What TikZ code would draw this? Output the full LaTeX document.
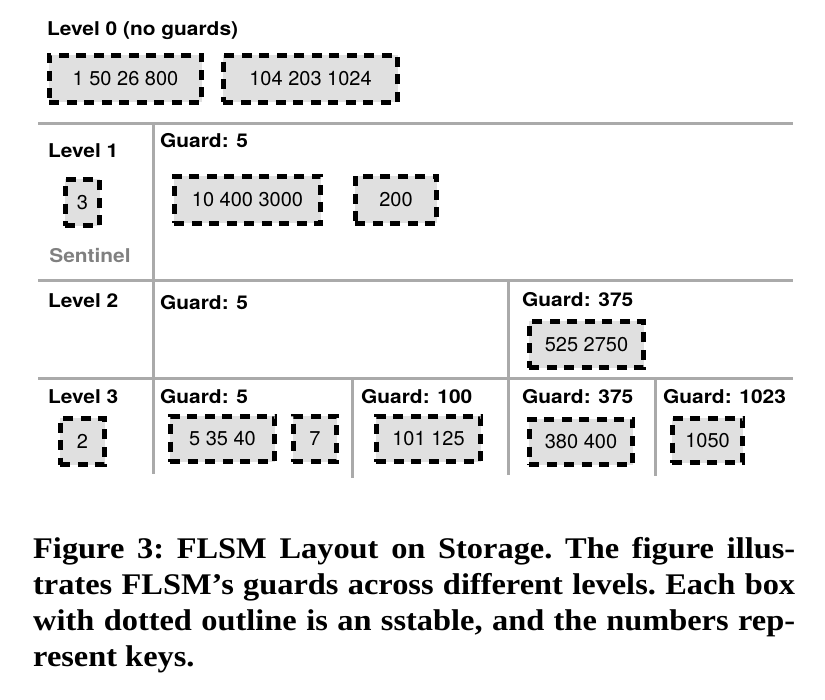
\documentclass[tikz,border=0pt]{standalone}
\usepackage{fontspec}
\newfontfamily\heros[FakeStretch=1.1]{TeX Gyre Heros}
\newfontfamily\numfont{TeX Gyre Heros}
\newfontfamily\capfont[FakeStretch=1.08]{Liberation Serif}
\definecolor{boxgray}{RGB}{224,224,224}
\definecolor{linegray}{RGB}{170,170,170}
\definecolor{sentgray}{RGB}{128,128,128}
\tikzset{
  sstable/.style={draw, line width=4.8pt, dash pattern=on 10pt off 7.5pt,
    fill=boxgray, inner sep=0pt, minimum height=47pt,
    font=\numfont\fontsize{20}{20}\selectfont},
  lvl/.style={anchor=base west, inner sep=0pt,
    font=\heros\bfseries\fontsize{19}{19}\selectfont},
  gridline/.style={linegray, line width=3pt},
  capline/.style={anchor=base west, inner sep=0pt,
    font=\capfont\bfseries\frenchspacing\fontsize{30}{36}\selectfont},
}

\begin{document}
\begin{tikzpicture}[x=1pt, y=-1pt]
  \useasboundingbox (0,0) rectangle (825,700);

  % grid
  \draw[gridline] (38,124) -- (793,124);
  \draw[gridline] (38,281) -- (793,281);
  \draw[gridline] (38,379) -- (793,379);
  \draw[gridline] (153,124) -- (153,474);
  \draw[gridline] (508,281) -- (508,475);
  \draw[gridline] (352,379) -- (352,478);
  \draw[gridline] (655,379) -- (655,476);

  % level 0
  \node[lvl] (lvl0) at (47,36) {Level 0 (no guards)};
  \node[sstable, minimum width=152.5pt] (l0a) at (125.5,79) {1 50 26 800};
  \node[sstable, minimum width=174.5pt] (l0b) at (310.5,79) {104 203 1024};

  % level 1
  \node[lvl] (lvl1) at (48,158) {Level 1};
  \node[lvl] (g1a) at (160,148) {Guard: 5};
  \node[sstable, minimum width=34.5pt, minimum height=46.5pt] (s1) at (82.5,202.5) {3};
  \node[lvl, anchor=base, text=sentgray] (sent) at (90,263) {Sentinel};
  \node[sstable, minimum width=146.5pt] (l1a) at (247.5,200) {10 400 3000};
  \node[sstable, minimum width=81.5pt] (l1b) at (396,200) {200};

  % level 2
  \node[lvl] (lvl2) at (48,308) {Level 2};
  \node[lvl] (g2a) at (160,310) {Guard: 5};
  \node[lvl] (g2b) at (522,307) {Guard: 375};
  \node[sstable, minimum width=114.5pt, minimum height=46.5pt] (l2a) at (586.5,344.5) {525 2750};

  % level 3
  \node[lvl] (lvl3) at (48,404) {Level 3};
  \node[lvl] (g3a) at (160,404) {Guard: 5};
  \node[lvl] (g3b) at (361,404) {Guard: 100};
  \node[lvl] (g3c) at (522,404) {Guard: 375};
  \node[lvl] (g3d) at (663,404) {Guard: 1023};
  \node[sstable, minimum width=44.5pt, minimum height=46.5pt] (s3) at (82.5,441.5) {2};
  \node[sstable, minimum width=104.5pt, minimum height=45.5pt] (l3a) at (222.5,439) {5 35 40};
  \node[sstable, minimum width=43.5pt, minimum height=45.5pt] (l3b) at (315,439) {7};
  \node[sstable, minimum width=104.5pt, minimum height=45.5pt] (l3c) at (428.5,439) {101 125};
  \node[sstable, minimum width=103.5pt, minimum height=45.5pt] (l3d) at (581,442) {380 400};
  \node[sstable, minimum width=70.5pt, minimum height=44.5pt] (l3e) at (707.5,440.5) {1050};

  % caption
  \node[capline] (cap1) at (33,558) {\makebox[762pt][s]{Figure 3: FLSM Layout on Storage. The figure illus-}};
  \node[capline] (cap2) at (33,594) {\makebox[762pt][s]{trates FLSM’s guards across different levels. Each box}};
  \node[capline] (cap3) at (33,630) {\makebox[762pt][s]{with dotted outline is an sstable, and the numbers rep-}};
  \node[capline] (cap4) at (33,666) {resent keys.};
\end{tikzpicture}
\end{document}
